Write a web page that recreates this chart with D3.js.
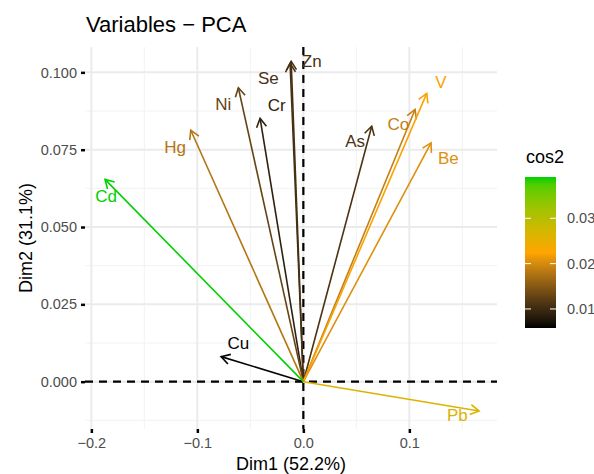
<!DOCTYPE html>
<html>
<head>
<meta charset="utf-8">
<script src="https://cdn.jsdelivr.net/npm/d3@7"></script>
<style>
  body { margin: 0; background: #fff; }
  text { font-family: "Liberation Sans", Arial, sans-serif; }
</style>
</head>
<body>
<script>
// Data
const variables = ["Cu", "Cr", "Ni", "Se", "Zn", "As", "Hg", "Co", "Be", "V", "Pb", "Cd"];
const dim1 = [-0.0776, -0.0408, -0.0613, -0.0125, -0.0115, 0.0645, -0.1062, 0.1054, 0.1205, 0.1164, 0.1658, -0.1871];
const dim2 = [0.0081, 0.0851, 0.0950, 0.1029, 0.1036, 0.0826, 0.0813, 0.0880, 0.0772, 0.0932, -0.0095, 0.0654];
const cos2 = [0.0061, 0.0089, 0.0128, 0.0107, 0.0108, 0.0110, 0.0179, 0.0189, 0.0205, 0.0222, 0.0263, 0.0391];
const labelX = [-0.0613, -0.0251, -0.0755, -0.0330, 0.0079, 0.0488, -0.1210, 0.0896, 0.1368, 0.1299, 0.1453, -0.1860];
const labelY = [0.0124, 0.0894, 0.0898, 0.0981, 0.1037, 0.0778, 0.0760, 0.0832, 0.0722, 0.0970, -0.0108, 0.0600];

const xTicks = [-0.2, -0.1, 0.0, 0.1];
const yTicks = [0.000, 0.025, 0.050, 0.075, 0.100];
const legendTicks = [0.01, 0.02, 0.03];

const width = 594, height = 474;
const panel = {left: 85, right: 497, top: 47, bottom: 429};

const svg = d3.select("body").append("svg")
  .attr("width", width)
  .attr("height", height);

const x = d3.scaleLinear().domain([-0.206, 0.1827]).range([panel.left, panel.right]);
const y = d3.scaleLinear().domain([-0.0153, 0.1082]).range([panel.bottom, panel.top]);

const cMin = d3.min(cos2) - 0.0003, cMax = d3.max(cos2);
const color = d3.scaleLinear()
  .domain([cMin, (cMin + cMax) / 2, cMax])
  .range(["#000000", "#FFA500", "#00D000"])
  .interpolate(d3.interpolateLab);

// Grid
const grid = svg.append("g");
const xMinor = [-0.15, -0.05, 0.05, 0.15];
const yMinor = [-0.0125, 0.0125, 0.0375, 0.0625, 0.0875];
grid.selectAll(".xmin").data(xMinor).join("line")
  .attr("x1", d => x(d)).attr("x2", d => x(d))
  .attr("y1", panel.top).attr("y2", panel.bottom)
  .attr("stroke", "#F2F2F2").attr("stroke-width", 1);
grid.selectAll(".ymin").data(yMinor).join("line")
  .attr("y1", d => y(d)).attr("y2", d => y(d))
  .attr("x1", panel.left).attr("x2", panel.right)
  .attr("stroke", "#F2F2F2").attr("stroke-width", 1);
grid.selectAll(".xmaj").data(xTicks).join("line")
  .attr("x1", d => x(d)).attr("x2", d => x(d))
  .attr("y1", panel.top).attr("y2", panel.bottom)
  .attr("stroke", "#EBEBEB").attr("stroke-width", 2);
grid.selectAll(".ymaj").data(yTicks).join("line")
  .attr("y1", d => y(d)).attr("y2", d => y(d))
  .attr("x1", panel.left).attr("x2", panel.right)
  .attr("stroke", "#EBEBEB").attr("stroke-width", 2);

// Axes
const xAxis = svg.append("g")
  .attr("transform", `translate(0,${panel.bottom})`)
  .call(d3.axisBottom(x).tickValues(xTicks).tickSize(4).tickPadding(5).tickFormat(d3.format(".1f")));
const yAxis = svg.append("g")
  .attr("transform", `translate(${panel.left},0)`)
  .call(d3.axisLeft(y).tickValues(yTicks).tickSize(4).tickPadding(4).tickFormat(d3.format(".3f")));
[xAxis, yAxis].forEach(a => {
  a.select(".domain").remove();
  a.selectAll(".tick line").attr("stroke", "#000").attr("stroke-width", 2.5);
  a.selectAll(".tick text")
    .attr("fill", "#4D4D4D")
    .style("font-size", "14.5px")
    .style("font-family", "'Liberation Sans', Arial, sans-serif")
    .text(function() { return this.textContent.replace("-", "\u2212"); });
});

// Dashed reference lines
svg.append("line")
  .attr("x1", panel.left).attr("x2", panel.right)
  .attr("y1", y(0)).attr("y2", y(0))
  .attr("stroke", "#000").attr("stroke-width", 2.2).attr("stroke-dasharray", "8,6");
svg.append("line")
  .attr("x1", x(0)).attr("x2", x(0))
  .attr("y1", panel.top).attr("y2", panel.bottom)
  .attr("stroke", "#000").attr("stroke-width", 2.2).attr("stroke-dasharray", "8,6");

// Arrows
const rows = variables.map((v, i) => ({name: v, x: dim1[i], y: dim2[i], cos2: cos2[i], lx: labelX[i], ly: labelY[i]}));
const arrows = svg.append("g");
rows.forEach(d => {
  const x0 = x(0), y0 = y(0), x1 = x(d.x), y1 = y(d.y);
  const ang = Math.atan2(y1 - y0, x1 - x0);
  const len = 10, spread = Math.PI / 6;
  const c = color(d.cos2);
  arrows.append("line")
    .attr("x1", x0).attr("y1", y0).attr("x2", x1).attr("y2", y1)
    .attr("stroke", c).attr("stroke-width", 1.6);
  arrows.append("path")
    .attr("d", d3.line()([
      [x1 - len * Math.cos(ang - spread), y1 - len * Math.sin(ang - spread)],
      [x1, y1],
      [x1 - len * Math.cos(ang + spread), y1 - len * Math.sin(ang + spread)]
    ]))
    .attr("fill", "none").attr("stroke", c).attr("stroke-width", 1.6)
    .attr("stroke-linejoin", "miter");
});
svg.append("g").selectAll("text").data(rows).join("text")
  .attr("x", d => x(d.lx)).attr("y", d => y(d.ly))
  .attr("dy", "0.36em")
  .attr("text-anchor", "middle")
  .attr("fill", d => color(d.cos2))
  .style("font-size", "17px")
  .text(d => d.name);

// Titles
svg.append("text")
  .attr("x", 86).attr("y", 32)
  .attr("fill", "#000")
  .style("font-size", "22px")
  .text("Variables \u2212 PCA");
svg.append("text")
  .attr("x", (panel.left + panel.right) / 2).attr("y", 470)
  .attr("text-anchor", "middle")
  .style("font-size", "18px")
  .text("Dim1 (52.2%)");
svg.append("text")
  .attr("transform", `translate(32,${(panel.top + panel.bottom) / 2}) rotate(-90)`)
  .attr("text-anchor", "middle")
  .style("font-size", "18px")
  .text("Dim2 (31.1%)");

// Legend
const leg = {x: 525, y: 177, w: 31, h: 151};
const legScale = d3.scaleLinear().domain([cMin, cMax]).range([leg.y + leg.h, leg.y]);
const grad = svg.append("defs").append("linearGradient")
  .attr("id", "cosgrad").attr("x1", 0).attr("y1", 1).attr("x2", 0).attr("y2", 0);
d3.range(0, 1.0001, 0.05).forEach(t => {
  grad.append("stop")
    .attr("offset", t)
    .attr("stop-color", color(cMin + t * (cMax - cMin)));
});
svg.append("text")
  .attr("x", 526).attr("y", 163)
  .style("font-size", "18px")
  .text("cos2");
svg.append("rect")
  .attr("x", leg.x).attr("y", leg.y).attr("width", leg.w).attr("height", leg.h)
  .attr("fill", "url(#cosgrad)");
const lt = svg.append("g").selectAll("g").data(legendTicks).join("g");
lt.append("line")
  .attr("x1", leg.x).attr("x2", leg.x + 6)
  .attr("y1", d => legScale(d)).attr("y2", d => legScale(d))
  .attr("stroke", "#fff").attr("stroke-width", 1);
lt.append("line")
  .attr("x1", leg.x + leg.w - 6).attr("x2", leg.x + leg.w)
  .attr("y1", d => legScale(d)).attr("y2", d => legScale(d))
  .attr("stroke", "#fff").attr("stroke-width", 1);
lt.append("text")
  .attr("x", leg.x + leg.w + 11).attr("y", d => legScale(d))
  .attr("dy", "0.36em")
  .attr("fill", "#4D4D4D")
  .style("font-size", "14.5px")
  .text(d => d3.format(".2f")(d));
</script>
</body>
</html>
